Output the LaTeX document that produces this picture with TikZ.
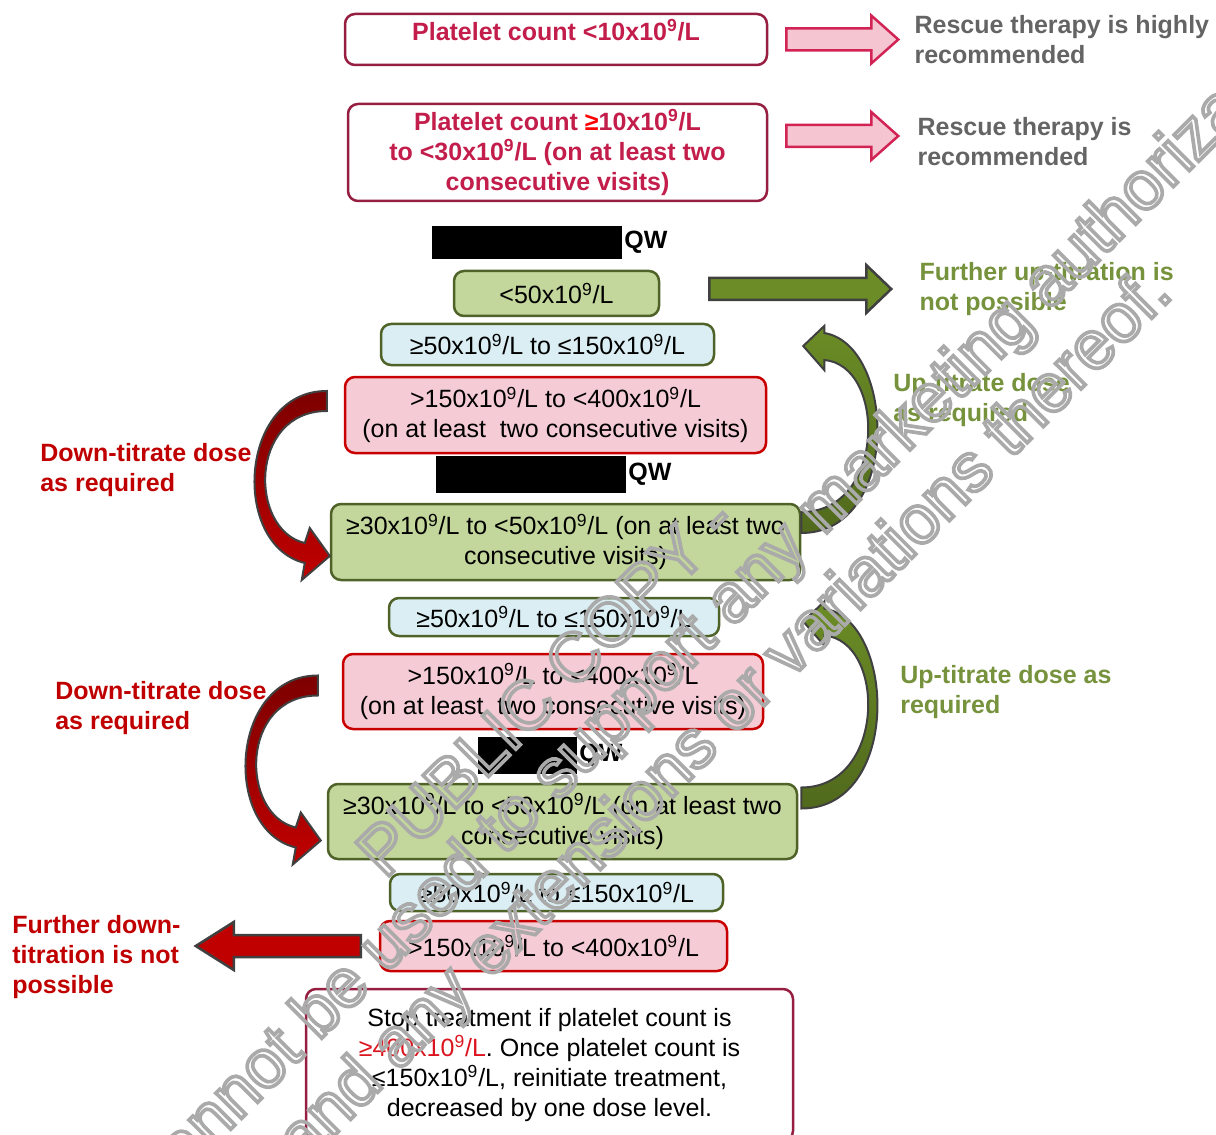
\documentclass[tikz,border=0pt]{standalone}
\usepackage{fontspec}
\setmainfont{Liberation Sans}
\usetikzlibrary{positioning,calc}

\newdimen\pxu
\pxu=0.6pt
\newcommand{\tnine}{x10\textsuperscript{9}/L}
\newcommand{\hollow}[1]{\special{pdf:literal direct 1 Tr 2.2 w}#1\special{pdf:literal direct 0 Tr}}

\definecolor{crimson}{RGB}{195,30,75}
\definecolor{maroon}{RGB}{150,30,65}
\definecolor{pinkfill}{RGB}{245,204,214}
\definecolor{rosefill}{RGB}{245,198,210}
\definecolor{roseline}{RGB}{210,35,85}
\definecolor{olivefill}{RGB}{195,214,155}
\definecolor{oliveline}{RGB}{79,98,40}
\definecolor{bluefill}{RGB}{218,238,243}
\definecolor{redline}{RGB}{200,0,0}
\definecolor{darkred}{RGB}{192,0,0}
\definecolor{alertred}{RGB}{220,20,30}
\definecolor{greenfill}{RGB}{107,140,38}
\definecolor{greentext}{RGB}{118,146,60}
\definecolor{graytext}{RGB}{100,100,100}
\definecolor{rimgray}{RGB}{64,64,64}
\definecolor{markgray}{RGB}{170,170,170}

\tikzset{
  pics/blockarrow/.style 2 args={code={
      \path[pic actions] (0,-11) -- (#1-#2,-11) -- (#1-#2,-24) -- (#1,0)
        -- (#1-#2,24) -- (#1-#2,11) -- (0,11) -- cycle;
      \coordinate (-tip) at (#1,0);
  }},
  pics/downloop/.style={code={
      \draw[downband] (-17,-24) .. controls (-105,-24) and (-113,130) .. (-39,148)
        -- (-42,165) -- (-14,141) -- (-34,113) -- (-39,128)
        .. controls (-95,115) and (-95,-4) .. (-17,-4) -- cycle;
  }},
  pics/uploop/.style={code={
      \draw[upband] (0,-9) .. controls (100,-9) and (95,-197) .. (23,-209)
        -- (23,-216) -- (2,-196) -- (23,-172) -- (23,-182)
        .. controls (85,-177) and (85,-30) .. (0,-30) -- cycle;
  }}
}

\begin{document}
\begin{tikzpicture}[x=0.6pt, y=-0.6pt,
    txt/.style={font=\fontsize{15}{18}\selectfont, align=center},
    box/.style={txt, rectangle, rounded corners=6pt, line width=1.5pt, inner sep=0pt},
    rescue/.style={box, draw=maroon, fill=white, text=crimson,
      font=\fontsize{15}{18}\selectfont\bfseries},
    low/.style={box, draw=oliveline, fill=olivefill},
    mid/.style={box, draw=oliveline, fill=bluefill},
    high/.style={box, draw=redline, fill=pinkfill},
    stopbox/.style={box, draw=maroon, fill=white},
    hide/.style={fill=black, inner sep=0pt},
    qw/.style={font=\fontsize{15}{18}\selectfont\bfseries, inner sep=1pt},
    note/.style={font=\fontsize{15}{18}\selectfont\bfseries, align=left, inner sep=0pt, anchor=west},
    pinkarrow/.style={draw=roseline, fill=rosefill, line width=1.5pt},
    greenarrow/.style={draw=rimgray, fill=greenfill, line width=1.5pt},
    redarrow/.style={draw=rimgray, fill=darkred, line width=1.5pt},
    downband/.style={draw=rimgray, line width=1.2pt, top color=darkred!65!black, bottom color=darkred},
    upband/.style={draw=rimgray, line width=1.2pt, top color=greenfill, bottom color=greenfill!75!black},
    wmark/.style={font=\fontsize{41}{48}\selectfont, text=markgray, anchor=base west, rotate=45, inner sep=0pt}
  ]
  \useasboundingbox (0,0) rectangle (1216,1135);

  \node[rescue, minimum width=422\pxu, minimum height=51\pxu, text depth=19\pxu] (rescA) at (556,39.5) {Platelet count <10\tnine};
  \node[rescue, minimum width=419\pxu, minimum height=97\pxu] (rescB) at (557.5,152.5)
    {Platelet count \textcolor{red}{≥}10\tnine\\to <30\tnine\ (on at least two\\consecutive visits)};
  \pic[pinkarrow] (arrA) at ([xshift=18\pxu]rescA.east) {blockarrow={112}{27}};
  \pic[pinkarrow] (arrB) at ([xshift=18\pxu,yshift=16.5\pxu]rescB.east) {blockarrow={112}{27}};
  \node[note, text=graytext, right=16\pxu of arrA-tip] (noteA) {Rescue therapy is highly\\recommended};
  \node[note, text=graytext, right=19\pxu of arrB-tip, yshift=-6\pxu] (noteB) {Rescue therapy is\\recommended};

  \node[hide, minimum width=190\pxu, minimum height=33\pxu] (hide1) at (527,242.5) {};
  \node[qw, right=0pt of hide1] (qw1) {QW};
  \node[low, minimum width=205\pxu, minimum height=45\pxu] (lowA) at (556.5,293.5) {<50\tnine};
  \node[mid, minimum width=333\pxu, minimum height=41\pxu] (midA) at (547.5,344.5) {≥50\tnine\ to ≤150\tnine};
  \node[high, minimum width=421\pxu, minimum height=76\pxu] (highA) at (555.5,415)
    {>150\tnine\ to <400\tnine\\(on at least\ \ two consecutive visits)};
  \pic[greenarrow] (arrC) at ([xshift=49\pxu,yshift=4.5\pxu]lowA.east) {blockarrow={182}{25}};
  \node[note, text=greentext, right=28\pxu of arrC-tip] (noteC) {Further up-titration is\\not possible};

  \node[hide, minimum width=190\pxu, minimum height=37\pxu] (hide2) at (531,474.5) {};
  \node[qw, right=0pt of hide2] (qw2) {QW};
  \node[low, minimum width=469\pxu, minimum height=76\pxu] (lowB) at (565.5,542)
    {≥30\tnine\ to <50\tnine\ (on at least two\\consecutive visits)};
  \node[mid, minimum width=330\pxu, minimum height=38\pxu] (midB) at (554,617) {≥50\tnine\ to ≤150\tnine};
  \node[high, minimum width=420\pxu, minimum height=75\pxu] (highB) at (553,691.5)
    {>150\tnine\ to <400\tnine\\(on at least\ \ two consecutive visits)};

  \node[hide, minimum width=99\pxu, minimum height=37\pxu] (hide3) at (527.5,755.5) {};
  \node[qw, right=0pt of hide3] (qw3) {QW};
  \node[low, minimum width=469\pxu, minimum height=75\pxu] (lowC) at (562.5,821.5)
    {≥30\tnine\ to <50\tnine\ (on at least two\\consecutive visits)};
  \node[mid, minimum width=333\pxu, minimum height=37\pxu] (midC) at (556.5,892.5) {≥50\tnine\ to ≤150\tnine};
  \node[high, minimum width=347\pxu, minimum height=50\pxu] (highC) at (553.5,946) {>150\tnine\ to <400\tnine};
  \node[stopbox, minimum width=487\pxu, minimum height=152\pxu] (stop) at (549.5,1065)
    {Stop treatment if platelet count is\\\textcolor{alertred}{≥400\tnine}. Once platelet count is\\≤150\tnine, reinitiate treatment,\\decreased by one dose level.};

  \pic at (highA.west) {downloop};
  \pic at ($(highB.west)+(-7,8)$) {downloop};
  \pic at (lowB.east) {uploop};
  \pic at ($(lowC.east)+(3,-4)$) {uploop};
  \pic[redarrow, rotate=180] (arrD) at ([xshift=-18\pxu]highC.west) {blockarrow={165}{38}};

  \node[note, text=greentext] (upA) at (893,400) {Up-titrate dose\\as required};
  \node[note, text=greentext] (upB) at (900,692) {Up-titrate dose as\\required};
  \node[note, text=darkred] (downA) at (40,470) {Down-titrate dose\\as required};
  \node[note, text=darkred] (downB) at (55,708) {Down-titrate dose\\as required};
  \node[note, text=darkred] (downC) at (12,957) {Further down-\\titration is not\\possible};

  \node[wmark] (markA) at (385,880) {\hollow{PUBLIC COPY -}};
  \node[wmark] (markB) at (160,1200) {\hollow{cannot be used to support any marketing authorization}};
  \node[wmark] (markC) at (304,1166) {\hollow{and any extensions or variations thereof.}};
\end{tikzpicture}
\end{document}
